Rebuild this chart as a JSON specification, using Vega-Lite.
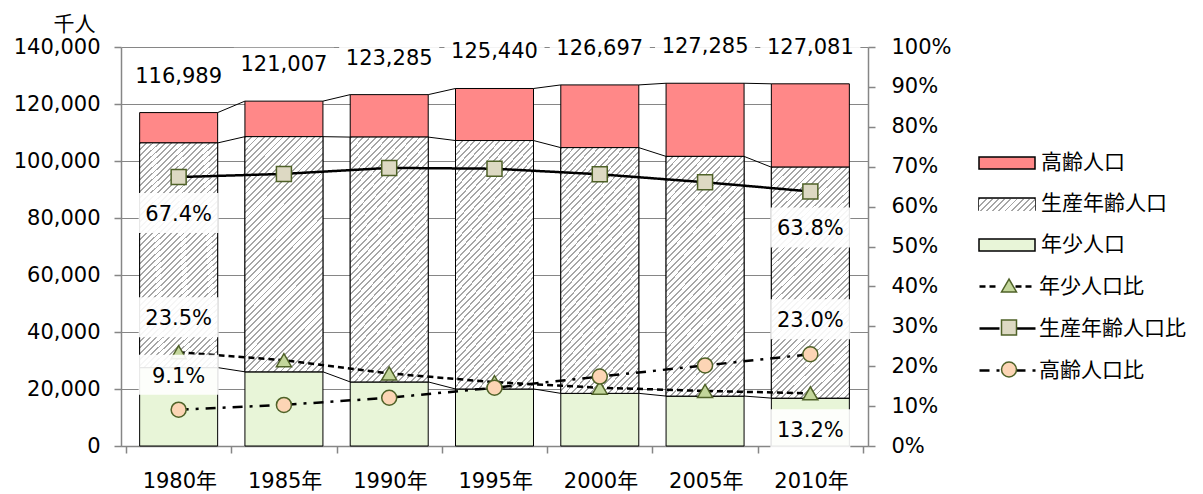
{
  "$schema": "https://vega.github.io/schema/vega-lite/v6.json",
  "width": 747,
  "height": 399,
  "autosize": {"type": "none"},
  "padding": {"left": 121, "top": 47, "right": 335, "bottom": 48},
  "background": "white",
  "config": {
    "font": "DejaVu Sans, Noto Sans CJK JP",
    "view": {"stroke": null},
    "axis": {
      "labelFont": "DejaVu Sans, Noto Sans CJK JP",
      "labelFontSize": 21,
      "labelColor": "#000",
      "domainColor": "#868686",
      "domainWidth": 1.5,
      "tickColor": "#868686",
      "tickWidth": 1.5,
      "tickSize": 7,
      "gridColor": "#868686",
      "gridWidth": 1.2,
      "titleFont": "DejaVu Sans, Noto Sans CJK JP",
      "titleFontSize": 21,
      "titleFontWeight": "normal",
      "titleColor": "#000"
    },
    "legend": {
      "labelFont": "DejaVu Sans, Noto Sans CJK JP",
      "labelFontSize": 21,
      "labelColor": "#000",
      "padding": 0
    },
    "text": {"font": "DejaVu Sans, Noto Sans CJK JP", "fontSize": 21, "color": "#000"}
  },
  "datasets": {
    "pop": [
      {"year": 1980, "group": "年少人口", "value": 27507},
      {"year": 1980, "group": "生産年齢人口", "value": 78835},
      {"year": 1980, "group": "高齢人口", "value": 10647},
      {"year": 1985, "group": "年少人口", "value": 26033},
      {"year": 1985, "group": "生産年齢人口", "value": 82506},
      {"year": 1985, "group": "高齢人口", "value": 12468},
      {"year": 1990, "group": "年少人口", "value": 22486},
      {"year": 1990, "group": "生産年齢人口", "value": 85904},
      {"year": 1990, "group": "高齢人口", "value": 14895},
      {"year": 1995, "group": "年少人口", "value": 20014},
      {"year": 1995, "group": "生産年齢人口", "value": 87165},
      {"year": 1995, "group": "高齢人口", "value": 18261},
      {"year": 2000, "group": "年少人口", "value": 18472},
      {"year": 2000, "group": "生産年齢人口", "value": 86220},
      {"year": 2000, "group": "高齢人口", "value": 22005},
      {"year": 2005, "group": "年少人口", "value": 17521},
      {"year": 2005, "group": "生産年齢人口", "value": 84092},
      {"year": 2005, "group": "高齢人口", "value": 25672},
      {"year": 2010, "group": "年少人口", "value": 16803},
      {"year": 2010, "group": "生産年齢人口", "value": 81032},
      {"year": 2010, "group": "高齢人口", "value": 29246}
    ],
    "ratio": [
      {"year": 1980, "series": "年少人口比", "ratio": 0.235},
      {"year": 1985, "series": "年少人口比", "ratio": 0.215},
      {"year": 1990, "series": "年少人口比", "ratio": 0.182},
      {"year": 1995, "series": "年少人口比", "ratio": 0.160},
      {"year": 2000, "series": "年少人口比", "ratio": 0.146},
      {"year": 2005, "series": "年少人口比", "ratio": 0.138},
      {"year": 2010, "series": "年少人口比", "ratio": 0.132},
      {"year": 1980, "series": "生産年齢人口比", "ratio": 0.674},
      {"year": 1985, "series": "生産年齢人口比", "ratio": 0.682},
      {"year": 1990, "series": "生産年齢人口比", "ratio": 0.697},
      {"year": 1995, "series": "生産年齢人口比", "ratio": 0.695},
      {"year": 2000, "series": "生産年齢人口比", "ratio": 0.681},
      {"year": 2005, "series": "生産年齢人口比", "ratio": 0.661},
      {"year": 2010, "series": "生産年齢人口比", "ratio": 0.638},
      {"year": 1980, "series": "高齢人口比", "ratio": 0.091},
      {"year": 1985, "series": "高齢人口比", "ratio": 0.103},
      {"year": 1990, "series": "高齢人口比", "ratio": 0.121},
      {"year": 1995, "series": "高齢人口比", "ratio": 0.146},
      {"year": 2000, "series": "高齢人口比", "ratio": 0.174},
      {"year": 2005, "series": "高齢人口比", "ratio": 0.202},
      {"year": 2010, "series": "高齢人口比", "ratio": 0.230}
    ]
  },
  "resolve": {"scale": {"y": "independent"}},
  "encoding": {
    "x": {
      "field": "year", "type": "quantitative",
      "scale": {"domain": [1977.5, 2012.5], "nice": false, "zero": false},
      "axis": {
        "values": [1977.5, 1982.5, 1987.5, 1992.5, 1997.5, 2002.5, 2007.5, 2012.5],
        "labelExpr": "datum.value > 2010 ? '' : (datum.value + 2.5) + '年'",
        "labelOffset": 53.36,
        "grid": false,
        "title": null,
        "labelPadding": 17,
        "labelOverlap": false,
        "labelBound": false,
        "labelFlush": false
      }
    }
  },
  "layer": [
    {
      "data": {"name": "pop"},
      "transform": [
        {"stack": "value", "groupby": ["year"], "sort": [{"field": "group", "order": "ascending"}], "as": ["v0", "v1"]}
      ],
      "encoding": {
        "y": {
          "field": "v1", "type": "quantitative",
          "scale": {"domain": [0, 140000], "nice": false, "zero": true},
          "axis": {
            "values": [0, 20000, 40000, 60000, 80000, 100000, 120000, 140000],
            "labelExpr": "format(datum.value, ',')",
            "grid": true,
            "title": "千人",
            "titleAngle": 0,
            "titleX": -47,
            "titleY": -17,
            "titleAlign": "center",
            "titleBaseline": "alphabetic",
            "labelPadding": 14
          }
        }
      },
      "layer": [
        {
          "mark": {"type": "bar", "width": 78, "stroke": "#000", "strokeWidth": 1},
          "encoding": {
            "y2": {"field": "v0"},
            "fill": {
              "field": "group", "type": "nominal",
              "scale": {
                "domain": ["高齢人口", "生産年齢人口", "年少人口"],
                "range": ["#ff8888", "#dcdcdc", "#e8f5d8"]
              },
              "legend": {
                "title": null,
                "orient": "none",
                "legendX": 857,
                "legendY": 105,
                "symbolType": "M-2.8,-0.6H2.8V0.6H-2.8Z",
                "symbolSize": 400,
                "symbolOffset": 18,
                "labelOffset": 23,
                "rowPadding": 20,
                "encode": {
                  "symbols": {
                    "stroke": {"value": "#000"},
                    "strokeWidth": {"value": 1}
                  }
                }
              }
            }
          }
        },
        {
          "transform": [{"filter": "datum.group === '生産年齢人口'"}],
          "mark": {
            "type": "bar", "width": 78, "stroke": "#000", "strokeWidth": 1,
            "fill": {"gradient": "linear", "x1": 0, "y1": 0, "x2": 0.4, "y2": 1.2, "stops": [
              {"offset": 0, "color": "#a6a6a6"}, {"offset": 0.006, "color": "#a6a6a6"}, {"offset": 0.006, "color": "#fff"}, {"offset": 0.02, "color": "#fff"},
              {"offset": 0.02, "color": "#a6a6a6"}, {"offset": 0.026, "color": "#a6a6a6"}, {"offset": 0.026, "color": "#fff"}, {"offset": 0.04, "color": "#fff"},
              {"offset": 0.04, "color": "#a6a6a6"}, {"offset": 0.046, "color": "#a6a6a6"}, {"offset": 0.046, "color": "#fff"}, {"offset": 0.06, "color": "#fff"},
              {"offset": 0.06, "color": "#a6a6a6"}, {"offset": 0.066, "color": "#a6a6a6"}, {"offset": 0.066, "color": "#fff"}, {"offset": 0.08, "color": "#fff"},
              {"offset": 0.08, "color": "#a6a6a6"}, {"offset": 0.086, "color": "#a6a6a6"}, {"offset": 0.086, "color": "#fff"}, {"offset": 0.1, "color": "#fff"},
              {"offset": 0.1, "color": "#a6a6a6"}, {"offset": 0.106, "color": "#a6a6a6"}, {"offset": 0.106, "color": "#fff"}, {"offset": 0.12, "color": "#fff"},
              {"offset": 0.12, "color": "#a6a6a6"}, {"offset": 0.126, "color": "#a6a6a6"}, {"offset": 0.126, "color": "#fff"}, {"offset": 0.14, "color": "#fff"},
              {"offset": 0.14, "color": "#a6a6a6"}, {"offset": 0.146, "color": "#a6a6a6"}, {"offset": 0.146, "color": "#fff"}, {"offset": 0.16, "color": "#fff"},
              {"offset": 0.16, "color": "#a6a6a6"}, {"offset": 0.166, "color": "#a6a6a6"}, {"offset": 0.166, "color": "#fff"}, {"offset": 0.18, "color": "#fff"},
              {"offset": 0.18, "color": "#a6a6a6"}, {"offset": 0.186, "color": "#a6a6a6"}, {"offset": 0.186, "color": "#fff"}, {"offset": 0.2, "color": "#fff"},
              {"offset": 0.2, "color": "#a6a6a6"}, {"offset": 0.206, "color": "#a6a6a6"}, {"offset": 0.206, "color": "#fff"}, {"offset": 0.22, "color": "#fff"},
              {"offset": 0.22, "color": "#a6a6a6"}, {"offset": 0.226, "color": "#a6a6a6"}, {"offset": 0.226, "color": "#fff"}, {"offset": 0.24, "color": "#fff"},
              {"offset": 0.24, "color": "#a6a6a6"}, {"offset": 0.246, "color": "#a6a6a6"}, {"offset": 0.246, "color": "#fff"}, {"offset": 0.26, "color": "#fff"},
              {"offset": 0.26, "color": "#a6a6a6"}, {"offset": 0.266, "color": "#a6a6a6"}, {"offset": 0.266, "color": "#fff"}, {"offset": 0.28, "color": "#fff"},
              {"offset": 0.28, "color": "#a6a6a6"}, {"offset": 0.286, "color": "#a6a6a6"}, {"offset": 0.286, "color": "#fff"}, {"offset": 0.3, "color": "#fff"},
              {"offset": 0.3, "color": "#a6a6a6"}, {"offset": 0.306, "color": "#a6a6a6"}, {"offset": 0.306, "color": "#fff"}, {"offset": 0.32, "color": "#fff"},
              {"offset": 0.32, "color": "#a6a6a6"}, {"offset": 0.326, "color": "#a6a6a6"}, {"offset": 0.326, "color": "#fff"}, {"offset": 0.34, "color": "#fff"},
              {"offset": 0.34, "color": "#a6a6a6"}, {"offset": 0.346, "color": "#a6a6a6"}, {"offset": 0.346, "color": "#fff"}, {"offset": 0.36, "color": "#fff"},
              {"offset": 0.36, "color": "#a6a6a6"}, {"offset": 0.366, "color": "#a6a6a6"}, {"offset": 0.366, "color": "#fff"}, {"offset": 0.38, "color": "#fff"},
              {"offset": 0.38, "color": "#a6a6a6"}, {"offset": 0.386, "color": "#a6a6a6"}, {"offset": 0.386, "color": "#fff"}, {"offset": 0.4, "color": "#fff"},
              {"offset": 0.4, "color": "#a6a6a6"}, {"offset": 0.406, "color": "#a6a6a6"}, {"offset": 0.406, "color": "#fff"}, {"offset": 0.42, "color": "#fff"},
              {"offset": 0.42, "color": "#a6a6a6"}, {"offset": 0.426, "color": "#a6a6a6"}, {"offset": 0.426, "color": "#fff"}, {"offset": 0.44, "color": "#fff"},
              {"offset": 0.44, "color": "#a6a6a6"}, {"offset": 0.446, "color": "#a6a6a6"}, {"offset": 0.446, "color": "#fff"}, {"offset": 0.46, "color": "#fff"},
              {"offset": 0.46, "color": "#a6a6a6"}, {"offset": 0.466, "color": "#a6a6a6"}, {"offset": 0.466, "color": "#fff"}, {"offset": 0.48, "color": "#fff"},
              {"offset": 0.48, "color": "#a6a6a6"}, {"offset": 0.486, "color": "#a6a6a6"}, {"offset": 0.486, "color": "#fff"}, {"offset": 0.5, "color": "#fff"},
              {"offset": 0.5, "color": "#a6a6a6"}, {"offset": 0.506, "color": "#a6a6a6"}, {"offset": 0.506, "color": "#fff"}, {"offset": 0.52, "color": "#fff"},
              {"offset": 0.52, "color": "#a6a6a6"}, {"offset": 0.526, "color": "#a6a6a6"}, {"offset": 0.526, "color": "#fff"}, {"offset": 0.54, "color": "#fff"},
              {"offset": 0.54, "color": "#a6a6a6"}, {"offset": 0.546, "color": "#a6a6a6"}, {"offset": 0.546, "color": "#fff"}, {"offset": 0.56, "color": "#fff"},
              {"offset": 0.56, "color": "#a6a6a6"}, {"offset": 0.566, "color": "#a6a6a6"}, {"offset": 0.566, "color": "#fff"}, {"offset": 0.58, "color": "#fff"},
              {"offset": 0.58, "color": "#a6a6a6"}, {"offset": 0.586, "color": "#a6a6a6"}, {"offset": 0.586, "color": "#fff"}, {"offset": 0.6, "color": "#fff"},
              {"offset": 0.6, "color": "#a6a6a6"}, {"offset": 0.606, "color": "#a6a6a6"}, {"offset": 0.606, "color": "#fff"}, {"offset": 0.62, "color": "#fff"},
              {"offset": 0.62, "color": "#a6a6a6"}, {"offset": 0.626, "color": "#a6a6a6"}, {"offset": 0.626, "color": "#fff"}, {"offset": 0.64, "color": "#fff"},
              {"offset": 0.64, "color": "#a6a6a6"}, {"offset": 0.646, "color": "#a6a6a6"}, {"offset": 0.646, "color": "#fff"}, {"offset": 0.66, "color": "#fff"},
              {"offset": 0.66, "color": "#a6a6a6"}, {"offset": 0.666, "color": "#a6a6a6"}, {"offset": 0.666, "color": "#fff"}, {"offset": 0.68, "color": "#fff"},
              {"offset": 0.68, "color": "#a6a6a6"}, {"offset": 0.686, "color": "#a6a6a6"}, {"offset": 0.686, "color": "#fff"}, {"offset": 0.7, "color": "#fff"},
              {"offset": 0.7, "color": "#a6a6a6"}, {"offset": 0.706, "color": "#a6a6a6"}, {"offset": 0.706, "color": "#fff"}, {"offset": 0.72, "color": "#fff"},
              {"offset": 0.72, "color": "#a6a6a6"}, {"offset": 0.726, "color": "#a6a6a6"}, {"offset": 0.726, "color": "#fff"}, {"offset": 0.74, "color": "#fff"},
              {"offset": 0.74, "color": "#a6a6a6"}, {"offset": 0.746, "color": "#a6a6a6"}, {"offset": 0.746, "color": "#fff"}, {"offset": 0.76, "color": "#fff"},
              {"offset": 0.76, "color": "#a6a6a6"}, {"offset": 0.766, "color": "#a6a6a6"}, {"offset": 0.766, "color": "#fff"}, {"offset": 0.78, "color": "#fff"},
              {"offset": 0.78, "color": "#a6a6a6"}, {"offset": 0.786, "color": "#a6a6a6"}, {"offset": 0.786, "color": "#fff"}, {"offset": 0.8, "color": "#fff"},
              {"offset": 0.8, "color": "#a6a6a6"}, {"offset": 0.806, "color": "#a6a6a6"}, {"offset": 0.806, "color": "#fff"}, {"offset": 0.82, "color": "#fff"},
              {"offset": 0.82, "color": "#a6a6a6"}, {"offset": 0.826, "color": "#a6a6a6"}, {"offset": 0.826, "color": "#fff"}, {"offset": 0.84, "color": "#fff"},
              {"offset": 0.84, "color": "#a6a6a6"}, {"offset": 0.846, "color": "#a6a6a6"}, {"offset": 0.846, "color": "#fff"}, {"offset": 0.86, "color": "#fff"},
              {"offset": 0.86, "color": "#a6a6a6"}, {"offset": 0.866, "color": "#a6a6a6"}, {"offset": 0.866, "color": "#fff"}, {"offset": 0.88, "color": "#fff"},
              {"offset": 0.88, "color": "#a6a6a6"}, {"offset": 0.886, "color": "#a6a6a6"}, {"offset": 0.886, "color": "#fff"}, {"offset": 0.9, "color": "#fff"},
              {"offset": 0.9, "color": "#a6a6a6"}, {"offset": 0.906, "color": "#a6a6a6"}, {"offset": 0.906, "color": "#fff"}, {"offset": 0.92, "color": "#fff"},
              {"offset": 0.92, "color": "#a6a6a6"}, {"offset": 0.926, "color": "#a6a6a6"}, {"offset": 0.926, "color": "#fff"}, {"offset": 0.94, "color": "#fff"},
              {"offset": 0.94, "color": "#a6a6a6"}, {"offset": 0.946, "color": "#a6a6a6"}, {"offset": 0.946, "color": "#fff"}, {"offset": 0.96, "color": "#fff"},
              {"offset": 0.96, "color": "#a6a6a6"}, {"offset": 0.966, "color": "#a6a6a6"}, {"offset": 0.966, "color": "#fff"}, {"offset": 0.98, "color": "#fff"},
              {"offset": 0.98, "color": "#a6a6a6"}, {"offset": 0.986, "color": "#a6a6a6"}, {"offset": 0.986, "color": "#fff"}, {"offset": 1, "color": "#fff"}
            ]}
          },
          "encoding": {
            "y2": {"field": "v0"}
          }
        },
        {
          "transform": [{"filter": "datum.group === '生産年齢人口'"}],
          "mark": {
            "type": "bar", "width": 78, "strokeWidth": 0,
            "fill": {"gradient": "linear", "x1": 0, "y1": 0, "x2": 1.161, "y2": 0.249, "stops": [
              {"offset": 0, "color": "#a6a6a6"}, {"offset": 0.0273, "color": "#a6a6a6"}, {"offset": 0.0273, "color": "#fff"}, {"offset": 0.0909, "color": "#fff"},
              {"offset": 0.0909, "color": "#a6a6a6"}, {"offset": 0.1182, "color": "#a6a6a6"}, {"offset": 0.1182, "color": "#fff"}, {"offset": 0.1818, "color": "#fff"},
              {"offset": 0.1818, "color": "#a6a6a6"}, {"offset": 0.2091, "color": "#a6a6a6"}, {"offset": 0.2091, "color": "#fff"}, {"offset": 0.2727, "color": "#fff"},
              {"offset": 0.2727, "color": "#a6a6a6"}, {"offset": 0.3, "color": "#a6a6a6"}, {"offset": 0.3, "color": "#fff"}, {"offset": 0.3636, "color": "#fff"},
              {"offset": 0.3636, "color": "#a6a6a6"}, {"offset": 0.3909, "color": "#a6a6a6"}, {"offset": 0.3909, "color": "#fff"}, {"offset": 0.4545, "color": "#fff"},
              {"offset": 0.4545, "color": "#a6a6a6"}, {"offset": 0.4818, "color": "#a6a6a6"}, {"offset": 0.4818, "color": "#fff"}, {"offset": 0.5455, "color": "#fff"},
              {"offset": 0.5455, "color": "#a6a6a6"}, {"offset": 0.5727, "color": "#a6a6a6"}, {"offset": 0.5727, "color": "#fff"}, {"offset": 0.6364, "color": "#fff"},
              {"offset": 0.6364, "color": "#a6a6a6"}, {"offset": 0.6636, "color": "#a6a6a6"}, {"offset": 0.6636, "color": "#fff"}, {"offset": 0.7273, "color": "#fff"},
              {"offset": 0.7273, "color": "#a6a6a6"}, {"offset": 0.7545, "color": "#a6a6a6"}, {"offset": 0.7545, "color": "#fff"}, {"offset": 0.8182, "color": "#fff"},
              {"offset": 0.8182, "color": "#a6a6a6"}, {"offset": 0.8455, "color": "#a6a6a6"}, {"offset": 0.8455, "color": "#fff"}, {"offset": 0.9091, "color": "#fff"},
              {"offset": 0.9091, "color": "#a6a6a6"}, {"offset": 0.9364, "color": "#a6a6a6"}, {"offset": 0.9364, "color": "#fff"}, {"offset": 1, "color": "#fff"}
            ]}
          },
          "encoding": {
            "y2": {"field": "v1"},
            "opacity": {
              "field": "group", "type": "ordinal",
              "scale": {"range": [1, 1]},
              "legend": {
                "title": null,
                "orient": "none",
                "legendX": 857,
                "legendY": 147,
                "symbolType": "M-2.8,-0.6H2.8V0.6H-2.8Z",
                "symbolSize": 400,
                "symbolOffset": 18,
                "labelOffset": 23,
                "labelOpacity": 0,
                "encode": {
                  "symbols": {
                    "stroke": {"value": "#000"},
                    "strokeWidth": {"value": 1},
                    "opacity": {"value": 1}
                  }
                }
              }
            }
          }
        },
        {
          "transform": [
            {"window": [{"op": "lead", "field": "v1", "as": "nv1"}, {"op": "lead", "field": "year", "as": "nyear"}], "groupby": ["group"], "sort": [{"field": "year", "order": "ascending"}]},
            {"filter": "datum.nyear != null"}
          ],
          "mark": {"type": "rule", "xOffset": 39, "x2Offset": -39, "color": "#000", "strokeWidth": 1},
          "encoding": {
            "x2": {"field": "nyear"},
            "y2": {"field": "nv1"}
          }
        },
        {
          "transform": [{"filter": "datum.group === '高齢人口'"}],
          "mark": {"type": "point", "shape": "M-1.3,-0.45H1.3V0.45H-1.3Z", "size": 5929, "filled": true, "fill": "#fff", "opacity": 0.9, "strokeWidth": 0, "yOffset": -36}
        },
        {
          "transform": [{"filter": "datum.group === '高齢人口'"}],
          "mark": {"type": "text", "baseline": "middle", "align": "center", "dy": -36, "fontSize": 21},
          "encoding": {
            "text": {"field": "v1", "type": "quantitative", "format": ","}
          }
        }
      ]
    },
    {
      "data": {"name": "ratio"},
      "encoding": {
        "y": {
          "field": "ratio", "type": "quantitative",
          "scale": {"domain": [0, 1], "nice": false, "zero": true},
          "axis": {
            "orient": "right",
            "values": [0, 0.1, 0.2, 0.3, 0.4, 0.5, 0.6, 0.7, 0.8, 0.9, 1],
            "labelExpr": "format(datum.value, '.0%')",
            "grid": false,
            "title": null,
            "labelPadding": 16
          }
        }
      },
      "layer": [
        {
          "mark": {"type": "line", "color": "#000", "strokeWidth": 2.5},
          "encoding": {
            "strokeDash": {
              "field": "series", "type": "nominal",
              "scale": {"range": [[6, 4], [1, 0], [10, 7, 3, 7]]},
              "legend": {
                "title": null,
                "orient": "none",
                "legendX": 857,
                "legendY": 228,
                "symbolType": "M-2.8,0H-0.8M0.8,0H2.8",
                "symbolSize": 400,
                "symbolOffset": 18,
                "labelOffset": 20,
                "rowPadding": 20,
                "symbolStrokeColor": "#000",
                "symbolStrokeWidth": 2.5
              }
            }
          }
        },
        {
          "mark": {"type": "point", "filled": true, "size": 225, "stroke": "#4f6228", "strokeWidth": 1.5, "opacity": 1},
          "encoding": {
            "shape": {
              "field": "series", "type": "nominal",
              "scale": {"domain": ["年少人口比", "生産年齢人口比", "高齢人口比"], "range": ["triangle-up", "square", "circle"]},
              "legend": {
                "title": null,
                "orient": "none",
                "legendX": 857,
                "legendY": 228,
                "symbolSize": 225,
                "symbolOffset": 20.5,
                "labelOffset": 20,
                "rowPadding": 20,
                "labelOpacity": 0
              }
            },
            "color": {
              "field": "series", "type": "nominal",
              "scale": {"domain": ["年少人口比", "生産年齢人口比", "高齢人口比"], "range": ["#c3d69b", "#ddd9c3", "#fcd5b5"]},
              "legend": {
                "title": null,
                "orient": "none",
                "legendX": 857,
                "legendY": 228,
                "symbolSize": 225,
                "symbolOffset": 20.5,
                "labelOffset": 20,
                "rowPadding": 20,
                "labelOpacity": 0
              }
            }
          }
        },
        {
          "transform": [{"filter": "(datum.year === 1980 && datum.series !== '生産年齢人口比') || (datum.year === 2010 && datum.series === '高齢人口比')"}],
          "mark": {"type": "point", "shape": "M-1,-0.5H1V0.5H-1Z", "size": 6400, "filled": true, "fill": "#fff", "opacity": 0.9, "strokeWidth": 0, "yOffset": -35}
        },
        {
          "transform": [{"filter": "(datum.year === 1980 && datum.series === '生産年齢人口比') || (datum.year === 2010 && datum.series !== '高齢人口比')"}],
          "mark": {"type": "point", "shape": "M-1,-0.5H1V0.5H-1Z", "size": 6400, "filled": true, "fill": "#fff", "opacity": 0.9, "strokeWidth": 0, "yOffset": 36}
        },
        {
          "transform": [{"filter": "(datum.year === 1980 && datum.series !== '生産年齢人口比') || (datum.year === 2010 && datum.series === '高齢人口比')"}],
          "mark": {"type": "text", "baseline": "middle", "align": "center", "dy": -33, "fontSize": 21},
          "encoding": {
            "text": {"field": "ratio", "type": "quantitative", "format": ".1%"}
          }
        },
        {
          "transform": [{"filter": "(datum.year === 1980 && datum.series === '生産年齢人口比') || (datum.year === 2010 && datum.series !== '高齢人口比')"}],
          "mark": {"type": "text", "baseline": "middle", "align": "center", "dy": 38, "fontSize": 21},
          "encoding": {
            "text": {"field": "ratio", "type": "quantitative", "format": ".1%"}
          }
        }
      ]
    }
  ]
}
